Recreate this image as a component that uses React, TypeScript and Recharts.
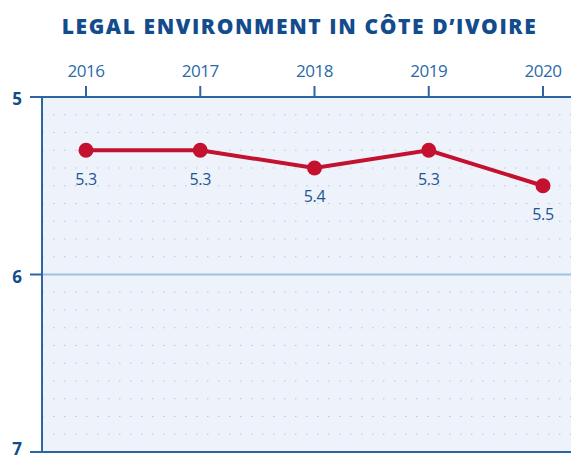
import { LineChart, Line, XAxis, YAxis, CartesianGrid, ReferenceLine, LabelList } from 'recharts'

const years = ['2016', '2017', '2018', '2019', '2020']
const scores = [5.3, 5.3, 5.4, 5.3, 5.5]
const yTicks = [5, 6, 7]
const dotRows = [5.1, 5.2, 5.3, 5.4, 5.5, 5.6, 5.7, 5.8, 5.9, 6.1, 6.2, 6.3, 6.4, 6.5, 6.6, 6.7, 6.8, 6.9]

const data = years.map((year, i) => ({ year, score: scores[i] }))

const navy = '#134c8c'
const axisBlue = '#2b66a0'
const red = '#c3112f'

export default function App() {
  return (
    <div style={{ position: 'relative', width: 571, height: 449 }}>
      <div
        style={{
          position: 'absolute',
          top: 8,
          left: 0,
          width: 583,
          textAlign: 'center',
          fontFamily: 'Open Sans',
          fontWeight: 800,
          fontSize: 21,
          letterSpacing: 1.6,
          lineHeight: 1,
          color: navy,
          whiteSpace: 'nowrap',
        }}
      >
        LEGAL ENVIRONMENT IN CÔTE D’IVOIRE
      </div>
      <LineChart
        width={571}
        height={449}
        data={data}
        margin={{ top: 59, right: 0, bottom: 5, left: 0 }}
        style={{ fontFamily: 'Open Sans' }}
      >
        <CartesianGrid fill="#eef3fb" horizontal={false} vertical={false} />
        {dotRows.map(v => (
          <ReferenceLine key={v} y={v} stroke="#b9c6d6" strokeWidth={1.2} strokeDasharray="1.5 9.5" />
        ))}
        <ReferenceLine y={6} stroke="#9dc1e1" strokeWidth={2} />
        <ReferenceLine y={7} stroke={axisBlue} strokeWidth={2} />
        <XAxis
          dataKey="year"
          orientation="top"
          height={30}
          padding={{ left: 44, right: 36 }}
          axisLine={{ stroke: axisBlue, strokeWidth: 2 }}
          tickLine={{ stroke: axisBlue, strokeWidth: 2 }}
          tickSize={11}
          tickMargin={9}
          tick={{ fill: '#2a6aa8', fontSize: 17, letterSpacing: -0.5 }}
        />
        <YAxis
          type="number"
          domain={[5, 7]}
          ticks={yTicks}
          reversed
          width={34}
          axisLine={{ stroke: axisBlue, strokeWidth: 2 }}
          tickLine={{ stroke: axisBlue, strokeWidth: 2 }}
          tickSize={12}
          tickMargin={8}
          tick={{ fill: navy, fontSize: 17, fontWeight: 700, dy: 2 }}
        />
        <Line
          dataKey="score"
          stroke={red}
          strokeWidth={4}
          dot={{ r: 7.5, fill: red, stroke: 'none' }}
          activeDot={false}
          isAnimationActive={false}
        >
          <LabelList dataKey="score" position="bottom" offset={23} fill="#1d5592" fontSize={16} letterSpacing={-0.3} />
        </Line>
      </LineChart>
    </div>
  )
}
